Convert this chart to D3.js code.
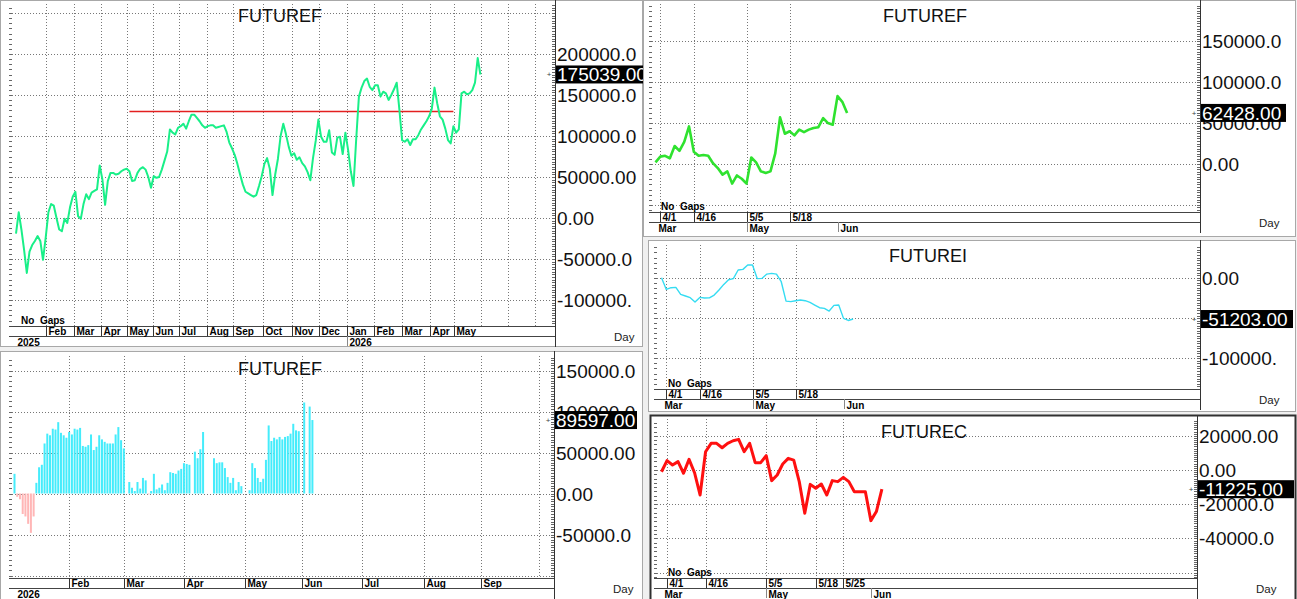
<!DOCTYPE html>
<html>
<head>
<meta charset="utf-8">
<style>
  body { margin: 0; background: #f0f0f0; }
  svg { display: block; font-family: "Liberation Sans", Arial, sans-serif; }
  .small { font-family: "Liberation Sans Narrow", "Arial Narrow", "Liberation Sans", Arial, sans-serif; font-weight: bold; font-size: 10px; }
</style>
</head>
<body>
<script src="https://cdn.jsdelivr.net/npm/d3@7"></script>
<script>
  // FUTUREF, long view: one reading every 3 calendar days from end of Dec 2024 (thousands)
  const futurefLong = [-19, 7, -14, -39, -67, -41, -33, -28, -22, -28, -51, -24, 7, 17, 15, 0, -14, -16, -1, -6,
    13, 26, 32, 2, -1, 17, 29, 23, 31, 33, 35, 64, 47, 16, 45, 55, 55, 53, 54, 57,
    59, 60, 57, 45, 46, 55, 60, 62, 59, 50, 37, 51, 49, 50, 59, 70, 81, 108, 104, 102,
    110, 112, 115, 109, 118, 126, 126, 122, 118, 113, 110, 112, 113, 113, 110, 111, 112, 113, 105, 92,
    85, 77, 66, 53, 41, 32, 30, 28, 26, 28, 39, 51, 66, 73, 60, 28, 53, 72, 100, 115,
    102, 87, 76, 79, 71, 74, 67, 63, 56, 46, 73, 94, 120, 99, 93, 93, 107, 80, 77, 98,
    99, 78, 104, 83, 57, 39, 96, 148, 159, 167, 170, 160, 156, 162, 162, 148, 154, 152, 144, 150,
    157, 165, 132, 95, 93, 96, 89, 96, 96, 101, 108, 113, 118, 124, 133, 159, 140, 124, 120, 109,
    95, 91, 112, 104, 108, 152, 154, 151, 152, 156, 165, 195, 175.039]
  const refLevel = 130000
  const refFrom = 42
  const refTo = 162
  const longMonths = ["Feb", "Mar", "Apr", "May", "Jun", "Jul", "Aug", "Sep", "Oct", "Nov", "Dec", "Jan", "Feb", "Mar", "Apr", "May", "", "", ""]
  const longMonthPos = [11.0, 21.3, 31.5, 41.2, 50.9, 60.4, 70.7, 80.3, 91.5, 102.3, 112.3, 122.5, 132.5, 142.8, 153.2, 162.4, 172.3, 182.3, 192.3]
  const longYears = ["2025", "2026"]
  const longYearPos = [-0.5, 122.5]

  // FUTUREF daily bars in 2026 (thousands), one per trading day
  const futurefBars = [24, -4, -7, -25, -28, -37, -48, -28, 13, 32,
    35, 61, 73, 71, 79, 78, 87, 74, 71, 68,
    75, 72, 79, 78, 80, 58, 57, 59, 72, 53,
    57, 71, 66, 63, 61, 61, 61, 72, 81, 65,
    55, 0, 14, 7, 3, 14, 6, 19, 16, -1,
    3, 24, 5, 7, 11, 4, 13, 26, 25, 24,
    28, 30, 37, 36, 35, 0, 51, 43, 54, 75,
    0, 0, 0, 43, 37, 38, 38, 31, 20, 13,
    19, 4, 14, 9, 0, 0, 4, 37, 31, 19,
    14, 18, 41, 83, 64, 68, 66, 69, 66, 69,
    70, 73, 85, 77, 76, 0, 111, 0, 106, 89.597]
  const barMonths = ["Feb", "Mar", "Apr", "May", "Jun", "Jul", "Aug", "Sep", ""]
  const barMonthPos = [20.0, 40.2, 61.9, 84.3, 105.1, 127.1, 149.8, 170.8, 192]

  // short views, one reading per trading day from Mar 31 (thousands)
  const futurefShort = [2, 9, 10, 7, 22, 16, 27, 46, 15, 10, 11, 10, 1, -5, -13, -9, -24, -14, -18, -24,
    8, 2, -9, -11, -9, 13, 57, 37, 40, 35, 42, 39, 42, 44, 45, 56, 50, 48, 83, 76, 62.428]
  const futureiShort = [0, -14.5, -12.4, -12, -20.6, -22.7, -24.8, -30, -24.4, -25.2, -25, -21.5, -15.3, -8.3, -2.5, -1.2,
    9.5, 10.3, 15.7, 15.7, -1.2, -0.8, 4.5, 5.4, 4.5, -5, -29, -29.7, -28.5, -27.7, -28.5, -30.6, -33.9,
    -37.2, -38, -41.3, -34.3, -33.9, -50.4, -53, -51.203]
  const futurecShort = [-1, 5.5, 2.9, 4.9, -1.9, 6.2, -1.6, -14.6, 10.7, 15.6, 15.6, 13, 15.6, 17.1, 17.9, 10.7,
    15.6, 4.3, 4.3, 8.4, -6.2, -2.9, 3.5, 6.8, 5.8, -6.8, -25.3, -8.4, -10.7, -8.2, -14.6, -6.2, -6.8,
    -4.3, -6.8, -12.7, -12.7, -12.7, -29.6, -24.3, -11.225]
  const shortDays = ["4/1", "4/16", "5/5", "5/18"]
  const shortDayPos = [1, 8, 19, 28]
  const shortDaysC = ["4/1", "4/16", "5/5", "5/18", "5/25"]
  const shortDayPosC = [1, 8, 19, 28, 33]
  const shortMonths = ["Mar", "May", "Jun"]
  const shortMonthPos = [0, 19, 38]

  const svg = d3.select("body").append("svg")
    .attr("width", 1297)
    .attr("height", 599)

  svg.append("rect")
    .attr("width", 1297)
    .attr("height", 599)
    .attr("fill", "#f0f0f0")

  const k = v => v * 1000

  function drawPanel(p) {
    const clipId = "clip-" + p.name
    svg.append("clipPath").attr("id", clipId)
      .append("rect")
      .attr("x", p.win[0]).attr("y", p.win[1])
      .attr("width", p.win[2]).attr("height", p.win[3])

    svg.append("rect")
      .attr("x", p.win[0] + 0.5).attr("y", p.win[1] + 0.5)
      .attr("width", p.win[2] - 1).attr("height", p.win[3] - 1)
      .attr("fill", "#fff")
      .attr("stroke", p.active ? "#303030" : "#a8a8a8")
      .attr("stroke-width", p.active ? 2 : 1)

    const g = svg.append("g").attr("clip-path", `url(#${clipId})`)

    const x = d3.scaleLinear().domain([0, 1]).range([p.x0, p.x0 + p.step])
    const y = d3.scaleLinear().domain([0, p.major]).range([p.zeroY, p.zeroY - p.majorPx])
    const vLow = y.invert(p.b), vHigh = y.invert(p.t)

    // horizontal dotted grid
    const gridVals = d3.range(Math.ceil(vLow / p.major) * p.major, vHigh, p.major)
    g.append("g").selectAll("line")
      .data(gridVals)
      .enter().append("line")
      .attr("x1", p.l).attr("x2", p.r)
      .attr("y1", d => Math.round(y(d)) + 0.5).attr("y2", d => Math.round(y(d)) + 0.5)
      .attr("stroke", "#777")
      .attr("stroke-dasharray", "1,2")

    // vertical dotted grid
    g.append("g").selectAll("line")
      .data(p.row1.pos)
      .enter().append("line")
      .attr("x1", d => Math.round(x(d)) + 0.5).attr("x2", d => Math.round(x(d)) + 0.5)
      .attr("y1", p.t).attr("y2", p.b)
      .attr("stroke", "#777")
      .attr("stroke-dasharray", "1,2")

    // left edge ticks
    const minor = p.major / 8
    g.append("g").selectAll("line")
      .data(d3.range(Math.ceil(vLow / minor) * minor, vHigh, minor))
      .enter().append("line")
      .attr("x1", p.l).attr("x2", p.l + 3)
      .attr("y1", d => Math.round(y(d)) + 0.5).attr("y2", d => Math.round(y(d)) + 0.5)
      .attr("stroke", "#666")

    // right axis ruler
    const ruler = p.major / 16
    g.append("g").selectAll("line")
      .data(d3.range(Math.ceil(vLow / ruler) * ruler, vHigh, ruler))
      .enter().append("line")
      .attr("x1", p.r - 3).attr("x2", p.r)
      .attr("y1", d => Math.round(y(d)) + 0.5).attr("y2", d => Math.round(y(d)) + 0.5)
      .attr("stroke", "#666")

    g.append("line")
      .attr("x1", p.r + 0.5).attr("x2", p.r + 0.5)
      .attr("y1", p.win[1]).attr("y2", p.b + 21)
      .attr("stroke", "#333")

    // x axis rows
    g.append("line")
      .attr("x1", p.l).attr("x2", p.r)
      .attr("y1", p.b + 0.5).attr("y2", p.b + 0.5)
      .attr("stroke", "#444")
    g.append("line")
      .attr("x1", p.l).attr("x2", p.r)
      .attr("y1", p.b + 10.5).attr("y2", p.b + 10.5)
      .attr("stroke", "#444")

    p.row1.pos.forEach((d, i) => {
      if (!p.row1.labels[i]) return
      const px = Math.round(x(d)) + 0.5
      g.append("line").attr("x1", px).attr("x2", px)
        .attr("y1", p.b).attr("y2", p.b + 10).attr("stroke", "#333")
      g.append("text").attr("class", "small")
        .attr("x", px + 2).attr("y", p.b + 9)
        .text(p.row1.labels[i])
    })
    p.row2.pos.forEach((d, i) => {
      const px = Math.round(x(d)) + 0.5
      if (i > 0) {
        g.append("line").attr("x1", px).attr("x2", px)
          .attr("y1", p.b + 10).attr("y2", p.b + 20).attr("stroke", "#888")
      }
      g.append("text").attr("class", "small")
        .attr("x", px + 2).attr("y", p.b + 19.5)
        .text(p.row2.labels[i])
    })

    g.append("text")
      .attr("x", p.r + 59).attr("y", p.b + 15)
      .attr("font-size", 11.5)
      .attr("fill", "#222")
      .text("Day")

    if (p.noGaps) {
      g.append("text").attr("class", "small")
        .attr("x", p.noGaps).attr("y", p.b - 2.5)
        .attr("xml:space", "preserve")
        .text("No  Gaps")
    }

    g.append("text")
      .attr("x", p.titleX).attr("y", p.titleY)
      .attr("text-anchor", "middle")
      .attr("font-size", 18)
      .attr("fill", "#111")
      .text(p.title)

    // series
    const plot = g.append("g")
    if (p.ref) {
      plot.append("line")
        .attr("x1", x(p.ref.from)).attr("x2", x(p.ref.to))
        .attr("y1", y(p.ref.value)).attr("y2", y(p.ref.value))
        .attr("stroke", "#e32020")
        .attr("stroke-width", 1.5)
    }
    if (p.type === "bars") {
      const bars = p.values.map((v, i) => ({ i, v: k(v) })).filter(d => d.v !== 0)
      plot.selectAll("rect")
        .data(bars)
        .enter().append("rect")
        .attr("x", d => x(d.i) - 1)
        .attr("width", 2)
        .attr("y", d => Math.min(y(d.v), y(0)))
        .attr("height", d => Math.abs(y(d.v) - y(0)))
        .attr("fill", d => d.v > 0 ? p.color : p.negColor)
    } else {
      const line = d3.line()
        .x((d, i) => x(i))
        .y(d => y(k(d)))
      plot.append("path")
        .datum(p.values)
        .attr("d", line)
        .attr("fill", "none")
        .attr("stroke", p.color)
        .attr("stroke-width", p.width)
        .attr("stroke-linejoin", "round")
    }

    // y labels
    g.append("g").selectAll("text")
      .data(p.yLabels)
      .enter().append("text")
      .attr("x", p.r + 2)
      .attr("y", d => y(d[0]) + 7)
      .attr("font-size", 19)
      .attr("fill", "#111")
      .text(d => d[1])

    // last value box, drawn over the axis labels as in the terminal
    const last = k(p.values[p.values.length - 1])
    const ly = y(last)
    g.append("rect")
      .attr("x", p.r + 1).attr("y", ly - 9)
      .attr("width", p.boxW).attr("height", 18)
      .attr("fill", "#000")
    g.append("text")
      .attr("x", p.r + 2).attr("y", ly + 7)
      .attr("font-size", 19)
      .attr("fill", "#fff")
      .text(p.lastLabel)
    g.append("text")
      .attr("x", p.r - 6).attr("y", ly + 3)
      .attr("text-anchor", "middle")
      .attr("font-size", 8)
      .attr("fill", "#444")
      .text("+")
  }

  drawPanel({
    name: "p1", title: "FUTUREF", titleX: 280, titleY: 22,
    win: [0, 0, 643, 347], l: 9, r: 555, t: 4, b: 326,
    x0: 16, step: 2.7, zeroY: 218, major: 50000, majorPx: 41,
    row1: { pos: longMonthPos, labels: longMonths },
    row2: { pos: longYearPos, labels: longYears },
    noGaps: 21,
    values: futurefLong, type: "line", color: "#19ef88", width: 2,
    ref: { from: refFrom, to: refTo, value: refLevel },
    yLabels: [[200000, "200000.0"], [150000, "150000.0"], [100000, "100000.0"], [50000, "50000.00"], [0, "0.00"], [-50000, "-50000.0"], [-100000, "-100000."]],
    lastLabel: "175039.00", boxW: 95
  })

  drawPanel({
    name: "p2", title: "FUTUREF", titleX: 280, titleY: 375,
    win: [0, 351, 643, 250], l: 9, r: 554, t: 356, b: 578,
    x0: 14.5, step: 2.733, zeroY: 493.5, major: 50000, majorPx: 41,
    row1: { pos: barMonthPos, labels: barMonths },
    row2: { pos: [0], labels: ["2026"] },
    values: futurefBars, type: "bars", color: "#45ecfb", negColor: "#ffb6b6",
    yLabels: [[150000, "150000.0"], [100000, "100000.0"], [50000, "50000.00"], [0, "0.00"], [-50000, "-50000.0"]],
    lastLabel: "89597.00", boxW: 82
  })

  drawPanel({
    name: "p3", title: "FUTUREF", titleX: 925, titleY: 22,
    win: [643, 0, 653, 237], l: 649, r: 1200, t: 4, b: 212,
    x0: 655.5, step: 4.79, zeroY: 164, major: 50000, majorPx: 40.9,
    row1: { pos: shortDayPos, labels: shortDays },
    row2: { pos: shortMonthPos, labels: shortMonths },
    noGaps: 661,
    values: futurefShort, type: "line", color: "#2fe22f", width: 2.6,
    yLabels: [[150000, "150000.0"], [100000, "100000.0"], [50000, "50000.00"], [0, "0.00"]],
    lastLabel: "62428.00", boxW: 85
  })

  drawPanel({
    name: "p4", title: "FUTUREI", titleX: 928, titleY: 262,
    win: [648, 240, 648, 172], l: 654, r: 1200, t: 245, b: 389,
    x0: 661.5, step: 4.79, zeroY: 277.7, major: 50000, majorPx: 40.35,
    row1: { pos: shortDayPos, labels: shortDays },
    row2: { pos: shortMonthPos, labels: shortMonths },
    noGaps: 668,
    values: futureiShort, type: "line", color: "#35dcf2", width: 1.4,
    yLabels: [[0, "0.00"], [-50000, "-50000.0"], [-100000, "-100000."]],
    lastLabel: "-51203.00", boxW: 92
  })

  drawPanel({
    name: "p5", title: "FUTUREC", titleX: 924, titleY: 438,
    win: [650, 415, 646, 186], active: true, l: 654, r: 1197, t: 419, b: 578,
    x0: 661.5, step: 5.51, zeroY: 470, major: 20000, majorPx: 34.2,
    row1: { pos: shortDayPosC, labels: shortDaysC },
    row2: { pos: shortMonthPos, labels: shortMonths },
    noGaps: 668,
    values: futurecShort, type: "line", color: "#ff1010", width: 3,
    yLabels: [[20000, "20000.00"], [0, "0.00"], [-20000, "-20000.0"], [-40000, "-40000.0"]],
    lastLabel: "-11225.00", boxW: 96
  })
</script>
</body>
</html>
